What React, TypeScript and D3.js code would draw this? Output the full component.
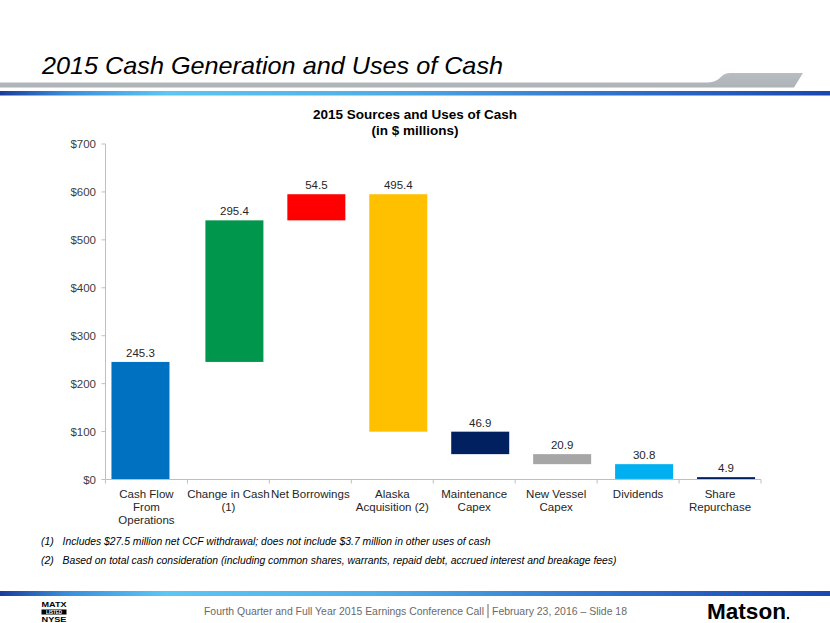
import React from "react";
import * as d3 from "d3";

const categoryLabels: string[][] = [
  ["Cash Flow", "From", "Operations"],
  ["Change in Cash", "(1)"],
  ["Net Borrowings"],
  ["Alaska", "Acquisition (2)"],
  ["Maintenance", "Capex"],
  ["New Vessel", "Capex"],
  ["Dividends"],
  ["Share", "Repurchase"],
];
const values: number[] = [245.3, 295.4, 54.5, -495.4, -46.9, -20.9, -30.8, -4.9];
const valueLabels: string[] = ["245.3", "295.4", "54.5", "495.4", "46.9", "20.9", "30.8", "4.9"];
const barColors: string[] = ["#0070C0", "#00964B", "#FF0000", "#FFC000", "#002060", "#A6A6A6", "#00B0F0", "#002060"];
const seriesOf: number[] = [0, 1, 1, 1, 1, 1, 1, 1];
const yTicks: number[] = [0, 100, 200, 300, 400, 500, 600, 700];

const FONT = "'Liberation Sans', Arial, Helvetica, sans-serif";

export default function App() {
  const W = 830, H = 623;
  const x = d3.scaleBand<number>().domain(d3.range(values.length)).range([105.5, 761]).padding(0);
  const y = d3.scaleLinear().domain([0, 700]).range([479.5, 144]);
  const seriesOffset = d3.scalePoint<number>().domain([0, 1]).range([-6, 6]);
  const barW = 58;

  let run = 0;
  const bars = values.map((v, i) => {
    const start = run;
    const end = run + v;
    run = end;
    let lo = Math.min(start, end), hi = Math.max(start, end);
    if (lo < 0) { hi = hi - lo; lo = 0; }
    const cx = (x(i) as number) + x.bandwidth() / 2 + (seriesOffset(seriesOf[i]) as number);
    return { i, lo, hi, cx, color: barColors[i], label: valueLabels[i] };
  });

  const axisColor = "#BFBFBF";
  const bandEdges = d3.range(values.length + 1).map((k) => 105.5 + k * x.bandwidth());

  return (
    <svg width={W} height={H} style={{ position: "absolute", left: 0, top: 0, background: "#fff" }} fontFamily={FONT}>
      <defs>
        <linearGradient id="blueBar" x1="0" x2="1" y1="0" y2="0">
          <stop offset="0" stopColor="#1A3C9C" />
          <stop offset="0.08" stopColor="#3A8EDB" />
          <stop offset="0.2" stopColor="#5CC6F4" />
          <stop offset="0.45" stopColor="#4FAFE8" />
          <stop offset="0.75" stopColor="#2F6FCC" />
          <stop offset="1" stopColor="#1A48B0" />
        </linearGradient>
        <linearGradient id="grayBar" x1="0" x2="0" y1="0" y2="1">
          <stop offset="0" stopColor="#B9BDC1" />
          <stop offset="1" stopColor="#AEB3B8" />
        </linearGradient>
      </defs>
      <rect x={0} y={0} width={W} height={H} fill="#fff" />

      {/* Header */}
      <text x={42} y={74} fontSize={24} fontStyle="italic" fill="#000" textLength={461} lengthAdjust="spacingAndGlyphs">
        2015 Cash Generation and Uses of Cash
      </text>
      <path d="M0,82.5 L708,82.5 Q716,82.5 722,76 Q725,73 730,73 L803,73 L794,87.5 L0,87.5 Z" fill="url(#grayBar)" />
      <rect x={0} y={91} width={W} height={4.5} fill="url(#blueBar)" />

      {/* Chart title */}
      <text x={415} y={119} fontSize={13.5} fontWeight="bold" textAnchor="middle" fill="#000">2015 Sources and Uses of Cash</text>
      <text x={415} y={135} fontSize={13.5} fontWeight="bold" textAnchor="middle" fill="#000">(in $ millions)</text>

      {/* Y axis */}
      <line x1={105.5} x2={105.5} y1={y(700)} y2={y(0)} stroke={axisColor} strokeWidth={1} />
      {yTicks.map((t) => (
        <g key={t}>
          <line x1={101.5} x2={105.5} y1={y(t)} y2={y(t)} stroke={axisColor} />
          <text x={96} y={y(t)} dy="0.35em" textAnchor="end" fontSize={11.5} fill="#404040">{"$" + t}</text>
        </g>
      ))}

      {/* Bars */}
      {bars.map((b) => (
        <rect key={b.i} x={b.cx - barW / 2} y={y(b.hi)} width={barW} height={Math.max(1, y(b.lo) - y(b.hi))} fill={b.color} />
      ))}
      {bars.map((b) => (
        <text key={"l" + b.i} x={b.cx} y={y(b.hi) - 5} textAnchor="middle" fontSize={11.5} fill="#262626">{b.label}</text>
      ))}

      {/* X axis */}
      <line x1={105.5} x2={761} y1={y(0)} y2={y(0)} stroke={axisColor} />
      {bandEdges.map((e, k) => (
        <line key={k} x1={e} x2={e} y1={y(0)} y2={y(0) + 4} stroke={axisColor} />
      ))}
      {categoryLabels.map((lines, i) => (
        <text key={i} textAnchor="middle" fontSize={11.5} fill="#262626">
          {lines.map((ln, j) => (
            <tspan key={j} x={(x(i) as number) + x.bandwidth() / 2} y={497.5 + j * 13.4}>{ln}</tspan>
          ))}
        </text>
      ))}

      {/* Footnotes */}
      <text x={41} y={545} fontSize={10.5} fontStyle="italic" fill="#000">(1)</text>
      <text x={62.5} y={545} fontSize={10.5} fontStyle="italic" fill="#000" textLength={428} lengthAdjust="spacingAndGlyphs">
        Includes $27.5 million  net CCF withdrawal; does not include $3.7 million  in other uses of cash
      </text>
      <text x={41} y={564} fontSize={10.5} fontStyle="italic" fill="#000">(2)</text>
      <text x={62.5} y={564} fontSize={10.5} fontStyle="italic" fill="#000" textLength={554} lengthAdjust="spacingAndGlyphs">
        Based on total cash consideration (including common shares, warrants, repaid debt, accrued interest and breakage fees)
      </text>

      {/* Footer */}
      <rect x={0} y={591} width={W} height={5} fill="url(#blueBar)" />
      <text x={54} y={607} fontSize={8} fontWeight="bold" textAnchor="middle" fill="#000" textLength={25} lengthAdjust="spacingAndGlyphs">MATX</text>
      <rect x={41.5} y={609.5} width={25} height={5} fill="#000" />
      <text x={54} y={613.8} fontSize={4.5} fontWeight="bold" textAnchor="middle" fill="#fff">LISTED</text>
      <text x={54} y={622} fontSize={8} fontWeight="bold" textAnchor="middle" fill="#000" textLength={25} lengthAdjust="spacingAndGlyphs">NYSE</text>

      <text x={204} y={615} fontSize={10.7} fill="#6A6A6A" textLength={280} lengthAdjust="spacingAndGlyphs">
        Fourth Quarter and Full Year 2015 Earnings Conference Call
      </text>
      <line x1={488} x2={488} y1={604} y2={618} stroke="#6A6A6A" strokeWidth={1} />
      <text x={492} y={615} fontSize={10.7} fill="#6A6A6A" textLength={135} lengthAdjust="spacingAndGlyphs">
        February 23, 2016 – Slide 18
      </text>
      <text x={707} y={619} fontSize={22} fontWeight="bold" fill="#000" textLength={79} lengthAdjust="spacingAndGlyphs">Matson</text>
      <circle cx={788} cy={618} r={1.2} fill="#000" />
    </svg>
  );
}
